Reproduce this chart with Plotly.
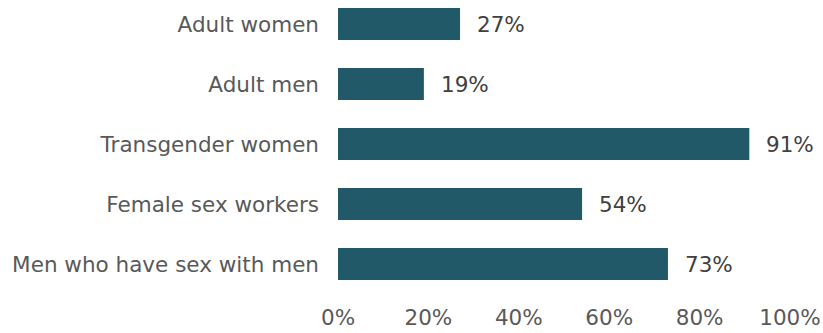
import plotly.graph_objects as go

# Share of each population group (percent), listed bottom to top
groups = [
    "Men who have sex with men",
    "Female sex workers",
    "Transgender women",
    "Adult men",
    "Adult women",
]
values = [73, 54, 91, 19, 27]
tick_vals = [0, 20, 40, 60, 80, 100]
tick_text = [f"{v}%" for v in tick_vals]

bar_color = "#225968"
font_family = "DejaVu Sans, Verdana, sans-serif"
font_size = 21.5

fig = go.Figure(
    go.Bar(
        x=values,
        y=groups,
        orientation="h",
        width=0.53,
        marker=dict(color=bar_color, line=dict(width=0)),
        hoverinfo="skip",
    )
)

# Value labels just past the end of each bar
for g, v in zip(groups, values):
    fig.add_annotation(
        x=v, y=g, text=f"{v}%", showarrow=False,
        xanchor="left", yanchor="middle", xshift=15,
        font=dict(family=font_family, size=font_size, color="#404040"),
    )

fig.update_layout(
    width=823, height=333,
    margin=dict(l=338, r=33, t=0, b=33),
    paper_bgcolor="white", plot_bgcolor="white",
    showlegend=False,
    font=dict(family=font_family, size=font_size, color="#595959"),
    xaxis=dict(
        range=[0, 100], tickvals=tick_vals, ticktext=tick_text,
        showgrid=False, zeroline=False, showline=False, ticks="",
        automargin=False, ticklabelstandoff=2,
        tickfont=dict(size=font_size, color="#595959"),
    ),
    yaxis=dict(
        type="category", categoryorder="array", categoryarray=groups,
        range=[-0.6, 4.4],
        showgrid=False, zeroline=False, showline=False, ticks="",
        automargin=False, ticklabelstandoff=18,
        tickfont=dict(size=font_size, color="#595959"),
    ),
)

fig.write_html("out.html")
